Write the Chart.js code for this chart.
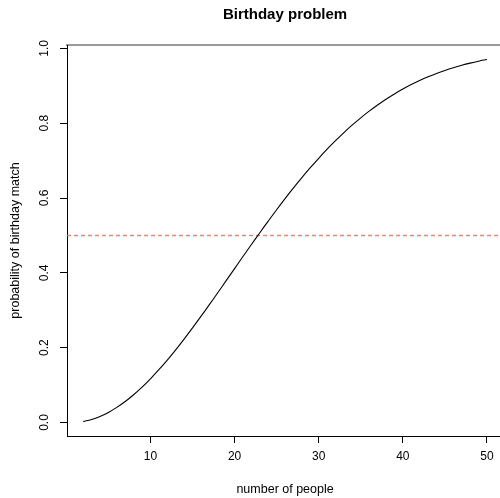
<!DOCTYPE html>
<html>
<head>
<meta charset="utf-8">
<script src="https://cdn.jsdelivr.net/npm/chart.js@4/dist/chart.umd.min.js"></script>
<style>
  html, body { margin: 0; padding: 0; background: #fff; }
  #wrap { width: 500px; height: 498px; }
</style>
</head>
<body>
<div id="wrap"><canvas id="c" width="500" height="498"></canvas></div>
<script>
// data: group size vs probability of a shared birthday
const people = [2, 3, 4, 5, 6, 7, 8, 9, 10, 11, 12, 13, 14, 15, 16, 17, 18, 19, 20, 21, 22, 23, 24, 25, 26,
  27, 28, 29, 30, 31, 32, 33, 34, 35, 36, 37, 38, 39, 40, 41, 42, 43, 44, 45, 46, 47, 48, 49, 50];
const probMatch = [0.0027, 0.0082, 0.0164, 0.0271, 0.0405, 0.0562, 0.0743, 0.0946, 0.1169, 0.1411,
  0.1670, 0.1944, 0.2231, 0.2529, 0.2836, 0.3150, 0.3469, 0.3791, 0.4114, 0.4437, 0.4757, 0.5073,
  0.5383, 0.5687, 0.5982, 0.6269, 0.6545, 0.6810, 0.7063, 0.7305, 0.7533, 0.7750, 0.7953, 0.8144,
  0.8322, 0.8487, 0.8641, 0.8782, 0.8912, 0.9032, 0.9140, 0.9239, 0.9329, 0.9410, 0.9483, 0.9548,
  0.9606, 0.9658, 0.9704];
const xTicks = [10, 20, 30, 40, 50];
const yTicks = [0.0, 0.2, 0.4, 0.6, 0.8, 1.0];
const halfLine = 0.5;

const FONT = 'Liberation Sans, Arial, Helvetica, sans-serif';

// R-style text: title, axis titles, rotated y tick labels, dashed 0.5 line
const rLook = {
  id: 'rLook',
  beforeDatasetsDraw(chart) {
    const { ctx, chartArea, scales } = chart;
    const y = scales.y.getPixelForValue(halfLine);
    ctx.save();
    ctx.strokeStyle = 'rgba(255, 90, 90, 0.8)';
    ctx.lineWidth = 1.5;
    ctx.setLineDash([4, 3]);
    ctx.beginPath();
    ctx.moveTo(chartArea.left, y);
    ctx.lineTo(chartArea.right, y);
    ctx.stroke();
    ctx.restore();
  },
  afterDraw(chart) {
    const { ctx, chartArea, scales } = chart;
    const cx = (scales.x.getPixelForValue(0.08) + scales.x.getPixelForValue(51.92)) / 2;
    ctx.save();
    ctx.fillStyle = '#000';
    ctx.textAlign = 'center';
    ctx.textBaseline = 'middle';

    ctx.font = 'bold 15px ' + FONT;
    ctx.fillText('Birthday problem', cx, 15);

    ctx.font = '12.5px ' + FONT;
    ctx.fillText('number of people', cx, 490);

    ctx.font = '12px ' + FONT;
    yTicks.forEach(v => {
      const py = scales.y.getPixelForValue(v);
      ctx.save();
      ctx.translate(45, py);
      ctx.rotate(-Math.PI / 2);
      ctx.fillText(v.toFixed(1), 0, 0);
      ctx.restore();
    });

    ctx.font = '12.5px ' + FONT;
    ctx.save();
    ctx.translate(16, (chartArea.top + chartArea.bottom) / 2);
    ctx.rotate(-Math.PI / 2);
    ctx.fillText('probability of birthday match', 0, 0);
    ctx.restore();
    ctx.restore();
  }
};

new Chart(document.getElementById('c'), {
  type: 'line',
  data: {
    datasets: [{
      data: people.map((n, i) => ({ x: n, y: probMatch[i] })),
      borderColor: '#000',
      borderWidth: 1.1,
      pointRadius: 0,
      tension: 0.4,
      fill: false
    }]
  },
  options: {
    responsive: false,
    animation: false,
    events: [],
    layout: { padding: 0 },
    plugins: { legend: { display: false }, tooltip: { enabled: false }, title: { display: false } },
    scales: {
      x: {
        type: 'linear',
        position: 'bottom',
        min: 0.08,
        max: 51.55,
        afterBuildTicks: s => { s.ticks = xTicks.map(v => ({ value: v })); },
        afterFit: s => { s.height = 62; },
        grid: { drawOnChartArea: false, drawTicks: true, tickLength: 7, tickColor: '#000', lineWidth: 1 },
        border: { display: true, color: '#000', width: 1 },
        ticks: { color: '#000', font: { family: FONT, size: 12 }, padding: 6, maxRotation: 0 }
      },
      xTop: {
        type: 'linear',
        position: 'top',
        min: 0.08,
        max: 51.55,
        afterFit: s => { s.height = 45; },
        grid: { display: false },
        border: { display: true, color: '#999', width: 2 },
        ticks: { display: false }
      },
      y: {
        type: 'linear',
        min: -0.036,
        max: 1.009,
        afterBuildTicks: s => { s.ticks = yTicks.map(v => ({ value: v })); },
        afterFit: s => { s.width = 67; },
        grid: { drawOnChartArea: false, drawTicks: true, tickLength: 7, tickColor: '#000', lineWidth: 1 },
        border: { display: true, color: '#000', width: 1 },
        ticks: { display: false }
      }
    }
  },
  plugins: [rLook]
});
</script>
</body>
</html>
